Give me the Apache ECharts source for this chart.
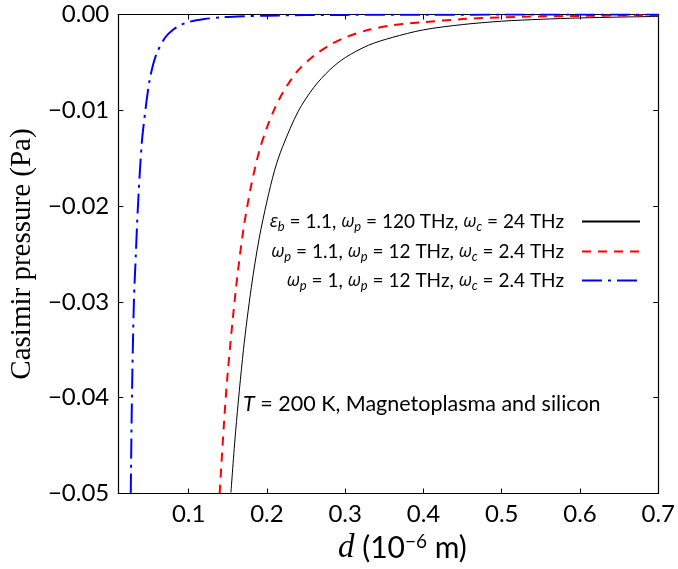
<!DOCTYPE html>
<html>
<head>
<meta charset="utf-8">
<script src="https://cdn.jsdelivr.net/npm/echarts@6/dist/echarts.min.js"></script>
<style>
  html, body { margin: 0; padding: 0; background: #fff; }
  #main { width: 678px; height: 569px; }
</style>
</head>
<body>
<div id="main"></div>
<script>
// 读图得到的数据 (d 单位 1e-6 m, 压强 Pa)
var dBlack = [0.154, 0.16, 0.17, 0.18, 0.19, 0.20, 0.21, 0.22, 0.24, 0.26, 0.28, 0.30, 0.33, 0.36, 0.40, 0.45, 0.50, 0.55, 0.60, 0.65, 0.70];
var pBlack = [-0.0499, -0.0435, -0.0350, -0.0285, -0.0234, -0.0195, -0.0162, -0.0138, -0.0101, -0.0076, -0.0058, -0.0045, -0.0032, -0.0024, -0.0016, -0.00105, -0.0007, -0.0005, -0.00036, -0.00027, -0.0002];

var dRed = [0.1396, 0.145, 0.15, 0.16, 0.17, 0.18, 0.19, 0.20, 0.21, 0.22, 0.23, 0.24, 0.26, 0.28, 0.30, 0.33, 0.36, 0.40, 0.45, 0.50, 0.55, 0.60, 0.65, 0.70];
var pRed = [-0.0500, -0.0428, -0.0373, -0.0289, -0.0224, -0.0178, -0.0143, -0.0118, -0.0098, -0.0082, -0.0069, -0.0058, -0.0043, -0.0032, -0.0024, -0.0016, -0.00113, -0.0008, -0.00048, -0.0003, -0.0002, -0.00015, -0.0001, -0.00007];

var dBlue = [0.026, 0.0275, 0.030, 0.0325, 0.035, 0.040, 0.045, 0.050, 0.055, 0.060, 0.070, 0.080, 0.090, 0.10, 0.12, 0.14, 0.17, 0.20, 0.25, 0.30, 0.40, 0.50, 0.60, 0.70];
var pBlue = [-0.050, -0.040, -0.030, -0.025, -0.0203, -0.0135, -0.0098, -0.0069, -0.0051, -0.0039, -0.0024, -0.0016, -0.0011, -0.00078, -0.00048, -0.0003, -0.00018, -0.00012, -0.00006, -0.00004, -0.00002, -0.00001, -0.000005, -0.000003];

var xTicks = [0.1, 0.2, 0.3, 0.4, 0.5, 0.6, 0.7];

var legendText = {
    s1: '{g|ε}{sub|b}{t| = 1.1, }{g|ω}{sub|p}{t| = 120 THz, }{g|ω}{sub|c}{t| = 24 THz}',
    s2: '{g|ω}{sub|p}{t| = 1.1, }{g|ω}{sub|p}{t| = 12 THz, }{g|ω}{sub|c}{t| = 2.4 THz}',
    s3: '{g|ω}{sub|p}{t| = 1, }{g|ω}{sub|p}{t| = 12 THz, }{g|ω}{sub|c}{t| = 2.4 THz}'
};

function pairs(xs, ys) {
    return xs.map(function (x, i) { return [x, ys[i]]; });
}

var sans = 'Lato';
var rich = {
    t: { fontFamily: sans, fontSize: 19, color: '#000', lineHeight: 23 },
    g: { fontFamily: 'Open Sans', fontStyle: 'italic', fontSize: 18, color: '#000', lineHeight: 23 },
    sub: { fontFamily: sans, fontStyle: 'italic', fontSize: 13, color: '#000', lineHeight: 13, verticalAlign: 'bottom' }
};

function makeLegend(name, top) {
    return {
        data: [name],
        right: 37,
        top: top,
        orient: 'vertical',
        align: 'right',
        padding: 0,
        itemWidth: 58,
        itemHeight: 14,
        itemStyle: { opacity: 0 },
        formatter: function (n) { return legendText[n]; },
        textStyle: { rich: rich, padding: [0, 13, 0, 0] }
    };
}

var chart = echarts.init(document.getElementById('main'));

var tickStyle = { show: true, inside: true, length: 5, lineStyle: { color: '#000', width: 1 } };
var lineStyle = { show: true, onZero: false, lineStyle: { color: '#000', width: 1.2 } };

var option = {
    animation: false,
    backgroundColor: '#fff',
    grid: { left: 113.5, right: 16, top: 14.5, bottom: 75.5, containLabel: false },
    legend: [makeLegend('s1', 212), makeLegend('s2', 242), makeLegend('s3', 271)],
    xAxis: [{
        type: 'value', min: 0.01, max: 0.7,
        axisLine: lineStyle,
        axisTick: Object.assign({ customValues: xTicks }, tickStyle),
        splitLine: { show: false },
        axisLabel: {
            customValues: xTicks, margin: 9,
            fontFamily: sans, fontSize: 24, color: '#000',
            formatter: function (v) { return v.toFixed(1); }
        }
    }, {
        type: 'value', position: 'top', min: 0.01, max: 0.7,
        axisLine: lineStyle,
        axisTick: Object.assign({ customValues: xTicks }, tickStyle),
        axisLabel: { show: false }, splitLine: { show: false }
    }],
    yAxis: [{
        type: 'value', min: -0.05, max: 0, interval: 0.01,
        axisLine: lineStyle,
        axisTick: tickStyle,
        splitLine: { show: false },
        axisLabel: {
            margin: 9, fontFamily: sans, fontSize: 24, color: '#000',
            formatter: function (v) {
                return Math.abs(v) < 1e-9 ? '0.00' : '−' + Math.abs(v).toFixed(2);
            }
        },
        name: 'Casimir pressure (Pa)',
        nameLocation: 'middle', nameGap: 77,
        nameTextStyle: { fontFamily: 'Liberation Serif', fontSize: 29, color: '#000' }
    }, {
        type: 'value', position: 'right', min: -0.05, max: 0, interval: 0.01,
        axisLine: lineStyle,
        axisTick: tickStyle,
        axisLabel: { show: false }, splitLine: { show: false }
    }],
    graphic: [{
        type: 'text', left: 338, top: 532,
        style: {
            text: '{i|d}{t| (10}{sup|−6}{t| m)}',
            rich: {
                i: { fontFamily: 'Liberation Serif', fontStyle: 'italic', fontSize: 33, fill: '#000', lineHeight: 32 },
                t: { fontFamily: sans, fontSize: 30, fill: '#000', lineHeight: 32 },
                sup: { fontFamily: sans, fontSize: 19, fill: '#000', lineHeight: 18, verticalAlign: 'top' }
            }
        }
    }, {
        type: 'text', left: 243, top: 393,
        style: {
            text: '{i|T}{t| = 200 K, Magnetoplasma and silicon}',
            rich: {
                i: { fontFamily: sans, fontStyle: 'italic', fontSize: 21.5, fill: '#000' },
                t: { fontFamily: sans, fontSize: 21.5, fill: '#000' }
            }
        }
    }],
    series: [{
        name: 's1', type: 'line', data: pairs(dBlack, pBlack),
        showSymbol: false, symbol: 'none', smooth: 0.3, clip: true,
        lineStyle: { color: '#000', width: 1 }, itemStyle: { color: '#000' }
    }, {
        name: 's2', type: 'line', data: pairs(dRed, pRed),
        showSymbol: false, symbol: 'none', smooth: 0.3, clip: true,
        lineStyle: { color: '#ff0000', width: 2, type: [9, 7] }, itemStyle: { color: '#ff0000' }
    }, {
        name: 's3', type: 'line', data: pairs(dBlue, pBlue),
        showSymbol: false, symbol: 'none', smooth: 0.3, clip: true,
        lineStyle: { color: '#0000ff', width: 2, type: [20, 6, 3, 6] }, itemStyle: { color: '#0000ff' }
    }]
};

chart.setOption(option);
</script>
</body>
</html>
